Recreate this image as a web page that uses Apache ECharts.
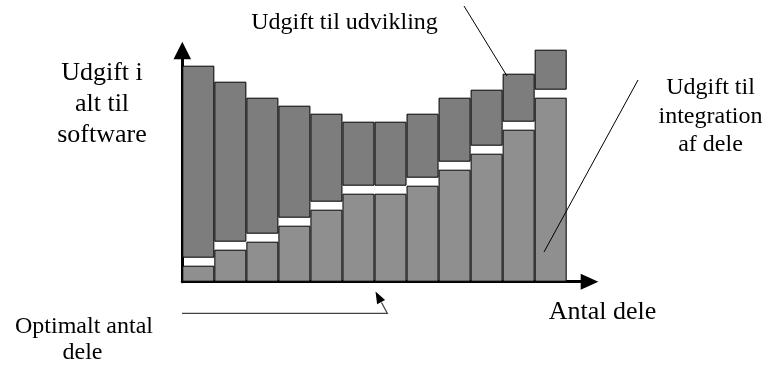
<!DOCTYPE html>
<html>
<head>
<meta charset="utf-8">
<script src="https://cdn.jsdelivr.net/npm/echarts@6/dist/echarts.min.js"></script>
<style>
html,body{margin:0;padding:0;background:#fff;}
#chart{width:767px;height:367px;}
</style>
</head>
<body>
<div id="chart"></div>
<script>
// Number of parts (categories)
const categories = ['1','2','3','4','5','6','7','8','9','10','11','12'];
// Cost of integrating the parts (lower, light segment)
const integration = [2, 4, 5, 7, 9, 11, 11, 12, 14, 16, 19, 23];
// White separator between the two costs
const separator = [1, 1, 1, 1, 1, 1, 1, 1, 1, 1, 1, 1];
// Cost of development (upper, dark segment)
const development = [24, 20, 17, 14, 11, 8, 8, 8, 8, 7, 6, 5];

const FONT = "'Liberation Serif', 'Times New Roman', serif";
const chart = echarts.init(document.getElementById('chart'), null, {renderer: 'canvas'});

function txt(x, y, text, size) {
  return {
    type: 'text', x: x, y: y, z: 100,
    style: {text: text, fontFamily: FONT, fontSize: size, fill: '#000',
            align: 'center', verticalAlign: 'middle'}
  };
}

const option = {
  animation: false,
  backgroundColor: '#fff',
  grid: [
    {left: 182.3, right: 200.3, top: 41.7, bottom: 85.3},
    {left: 182.3, right: 177.5, top: 50.5, bottom: 85.3}
  ],
  xAxis: [
    {type: 'category', gridIndex: 0, data: categories,
     axisLine: {show: false}, axisTick: {show: false}, axisLabel: {show: false}, splitLine: {show: false}},
    {type: 'value', gridIndex: 1, min: 0, max: 1,
     axisLine: {show: true, symbol: ['none', 'triangle'], symbolSize: [16, 17.6],
                lineStyle: {color: '#000', width: 3}},
     axisTick: {show: false}, axisLabel: {show: false}, splitLine: {show: false}}
  ],
  yAxis: [
    {type: 'value', gridIndex: 0, min: 0, max: 30,
     axisLine: {show: false}, axisTick: {show: false}, axisLabel: {show: false}, splitLine: {show: false}},
    {type: 'value', gridIndex: 1, min: 0, max: 1,
     axisLine: {show: true, symbol: ['none', 'triangle'], symbolSize: [17.6, 17.6],
                lineStyle: {color: '#000', width: 3}},
     axisTick: {show: false}, axisLabel: {show: false}, splitLine: {show: false}}
  ],
  series: [
    {type: 'bar', name: 'Udgift til integration af dele', stack: 'a', data: integration,
     xAxisIndex: 0, yAxisIndex: 0, barCategoryGap: '0%',
     itemStyle: {color: '#8f8f8f', borderColor: '#000', borderWidth: 1}},
    {type: 'bar', name: 'gap', stack: 'a', data: separator,
     xAxisIndex: 0, yAxisIndex: 0, barCategoryGap: '0%',
     itemStyle: {color: 'rgba(255,255,255,0)', borderWidth: 0}},
    {type: 'bar', name: 'Udgift til udvikling', stack: 'a', data: development,
     xAxisIndex: 0, yAxisIndex: 0, barCategoryGap: '0%',
     itemStyle: {color: '#7d7d7d', borderColor: '#000', borderWidth: 1}}
  ],
  graphic: [
    txt(102, 73, 'Udgift i', 26),
    txt(102, 104, 'alt til', 26),
    txt(102, 135, 'software', 26),
    txt(344.5, 23, 'Udgift til udvikling', 24),
    txt(710.5, 88, 'Udgift til', 24),
    txt(710.5, 117, 'integration', 24),
    txt(710.5, 145, 'af dele', 24),
    txt(602.5, 312.5, 'Antal dele', 26),
    txt(84, 326.5, 'Optimalt antal', 24),
    txt(82.5, 353, 'dele', 24),
    {type: 'line', z: 100, shape: {x1: 464, y1: 6, x2: 507, y2: 76},
     style: {stroke: '#000', lineWidth: 1}},
    {type: 'line', z: 100, shape: {x1: 638, y1: 80, x2: 544, y2: 252},
     style: {stroke: '#000', lineWidth: 1}},
    {type: 'polyline', z: 100, shape: {points: [[182, 313.3], [387.3, 313.3], [381.5, 302.5]]},
     style: {stroke: '#444', lineWidth: 1.3, fill: null}},
    {type: 'polygon', z: 100, shape: {points: [[375.5, 291.5], [385.1, 300.0], [377.1, 304.2]]},
     style: {fill: '#000'}}
  ]
};
chart.setOption(option);
</script>
</body>
</html>
